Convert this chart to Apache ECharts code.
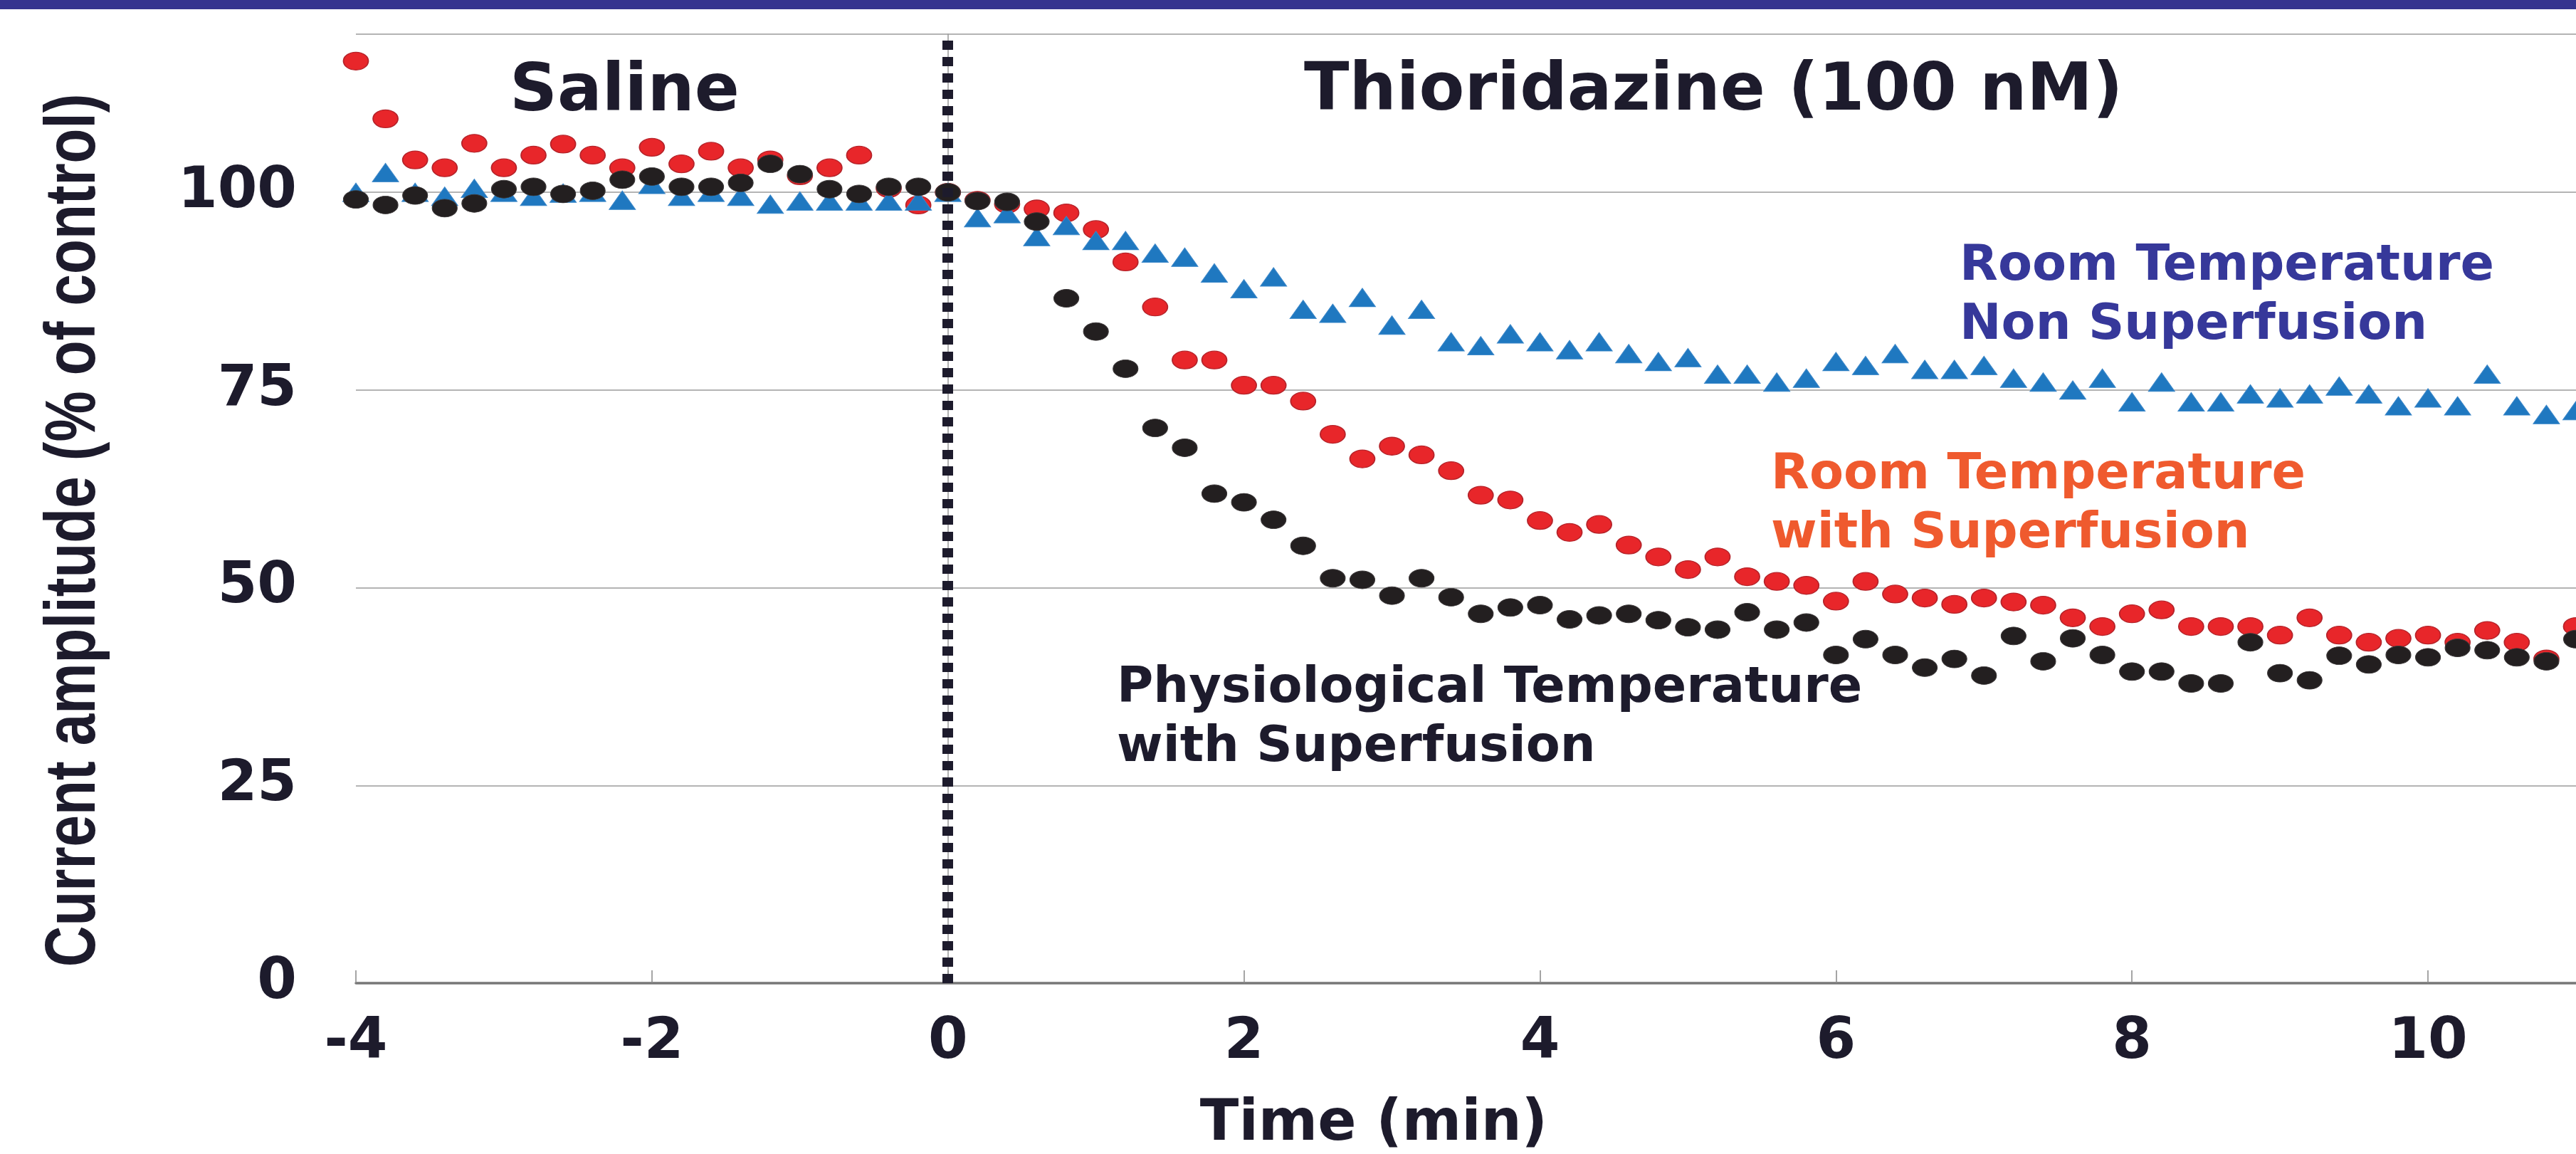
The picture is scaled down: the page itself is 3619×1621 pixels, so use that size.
<!DOCTYPE html>
<html>
<head>
<meta charset="utf-8">
<script src="https://cdn.jsdelivr.net/npm/echarts@6/dist/echarts.min.js"></script>
<style>
  html, body { margin: 0; padding: 0; background: #fff; }
  #chart { width: 3619px; height: 1621px; }
</style>
</head>
<body>
<div id="chart"></div>
<script>
// sampling times (min), one point every 0.2 min
const times = [
  -4, -3.8, -3.6, -3.4, -3.2, -3, -2.8, -2.6, -2.4, -2.2,
  -2, -1.8, -1.6, -1.4, -1.2, -1, -0.8, -0.6, -0.4, -0.2,
  0, 0.2, 0.4, 0.6, 0.8, 1, 1.2, 1.4, 1.6, 1.8,
  2, 2.2, 2.4, 2.6, 2.8, 3, 3.2, 3.4, 3.6, 3.8,
  4, 4.2, 4.4, 4.6, 4.8, 5, 5.2, 5.4, 5.6, 5.8,
  6, 6.2, 6.4, 6.6, 6.8, 7, 7.2, 7.4, 7.6, 7.8,
  8, 8.2, 8.4, 8.6, 8.8, 9, 9.2, 9.4, 9.6, 9.8,
  10, 10.2, 10.4, 10.6, 10.8, 11
]

// Room Temperature with Superfusion (red circles)
const roomSuperfusion = [
  116.6, 109.3, 104.1, 103.1, 106.2, 103.1, 104.7, 106.1, 104.7, 103.1,
  105.7, 103.6, 105.2, 103.1, 104.1, 102.1, 103.1, 104.7, 100.5, 98.4,
  100.0, 99.0, 98.5, 97.9, 97.4, 95.3, 91.2, 85.5, 78.8, 78.8,
  75.6, 75.6, 73.6, 69.4, 66.3, 67.9, 66.8, 64.8, 61.7, 61.1,
  58.5, 57.0, 58.0, 55.4, 53.9, 52.3, 53.9, 51.4, 50.8, 50.3,
  48.3, 50.8, 49.2, 48.7, 47.9, 48.7, 48.2, 47.8, 46.2, 45.1,
  46.7, 47.2, 45.1, 45.1, 45.1, 44.0, 46.2, 44.0, 43.1, 43.6,
  44.0, 43.1, 44.6, 43.1, 41.0, 45.1
]

// Room Temperature Non Superfusion (blue triangles)
const roomNonSuperfusion = [
  100.0, 102.5, 100.0, 99.5, 100.5, 100.0, 99.5, 99.9, 100.0, 99.0,
  101.0, 99.5, 100.0, 99.5, 98.5, 98.9, 98.9, 98.9, 98.9, 98.9,
  100.0, 96.8, 97.3, 94.4, 95.8, 93.9, 93.9, 92.3, 91.8, 89.8,
  87.8, 89.3, 85.2, 84.7, 86.7, 83.2, 85.2, 81.1, 80.6, 82.1,
  81.1, 80.1, 81.1, 79.6, 78.6, 79.1, 77.0, 77.0, 76.0, 76.5,
  78.6, 78.1, 79.6, 77.6, 77.6, 78.1, 76.5, 76.0, 75.0, 76.5,
  73.5, 76.0, 73.5, 73.5, 74.5, 74.0, 74.5, 75.5, 74.5, 73.0,
  74.0, 73.0, 77.0, 73.0, 71.9, 72.4
]

// Physiological Temperature with Superfusion (black circles)
const physiologicalSuperfusion = [
  99.1, 98.4, 99.6, 98.0, 98.6, 100.4, 100.7, 99.8, 100.2, 101.6,
  102.0, 100.7, 100.7, 101.2, 103.6, 102.3, 100.4, 99.8, 100.7, 100.7,
  100.0, 98.9, 98.8, 96.3, 86.6, 82.4, 77.7, 70.2, 67.7, 61.9,
  60.8, 58.6, 55.3, 51.2, 51.0, 49.0, 51.2, 48.8, 46.7, 47.5,
  47.8, 46.0, 46.5, 46.7, 45.9, 45.0, 44.7, 46.9, 44.7, 45.6,
  41.5, 43.5, 41.5, 39.9, 41.0, 38.9, 43.9, 40.7, 43.6, 41.5,
  39.4, 39.4, 37.9, 37.9, 43.1, 39.2, 38.3, 41.4, 40.3, 41.5,
  41.2, 42.4, 42.1, 41.2, 40.7, 43.5
]

const xTicks = [-4, -2, 0, 2, 4, 6, 8, 10]
const yTicks = [0, 25, 50, 75, 100]

const dark = '#1d1b2c'
const ellipse = 'path://M0,50A50,50,0,1,1,100,50A50,50,0,1,1,0,50Z'

function pairs (vals) {
    return times.map((t, i) => [t, vals[i]])
}

function note (text, x, y, color, size) {
    return {
        type: 'text',
        x: x,
        y: y,
        z: 100,
        style: {
            text: text,
            fill: color,
            font: 'bold ' + size + 'px "DejaVu Sans"',
            textAlign: 'left',
            textVerticalAlign: 'middle',
            align: 'left',
            verticalAlign: 'middle'
        }
    }
}

const chart = echarts.init(document.getElementById('chart'))

const option = {
    backgroundColor: '#ffffff',
    animation: false,
    grid: {
        left: 500,
        top: 48,
        width: 3128,
        bottom: 240,
        containLabel: false
    },
    xAxis: {
        type: 'value',
        min: -4,
        max: 11,
        interval: 2,
        axisLine: {
            onZero: false,
            lineStyle: { color: '#777777', width: 3.5 }
        },
        axisTick: {
            inside: true,
            length: 18,
            lineStyle: { color: '#888888', width: 1.5 }
        },
        splitLine: { show: false },
        axisLabel: {
            showMaxLabel: false,
            margin: 44,
            color: dark,
            fontFamily: 'DejaVu Sans',
            fontWeight: 'bold',
            fontSize: 80,
            formatter: function (val) {
                return xTicks.indexOf(val) >= 0 ? String(val) : ''
            }
        }
    },
    yAxis: {
        type: 'value',
        min: 0,
        max: 120,
        interval: 25,
        axisLine: {
            show: true,
            lineStyle: { color: '#999999', width: 1.5 }
        },
        axisTick: { show: false },
        splitLine: {
            show: true,
            lineStyle: { color: '#9b9b9b', width: 1.5 }
        },
        axisLabel: {
            showMaxLabel: false,
            margin: 83,
            padding: [14, 0, 0, 0],
            color: dark,
            fontFamily: 'DejaVu Sans',
            fontWeight: 'bold',
            fontSize: 80,
            formatter: function (val) {
                return yTicks.indexOf(val) >= 0 ? String(val) : ''
            }
        }
    },
    graphic: [
        {
            type: 'rect',
            z: 100,
            shape: { x: 0, y: 0, width: 3619, height: 13 },
            style: { fill: '#35338f' }
        },
        {
            type: 'text',
            x: 105,
            y: 745,
            rotation: Math.PI / 2,
            scaleX: 0.8,
            scaleY: 1,
            z: 100,
            style: {
                text: 'Current amplitude (% of control)',
                fill: dark,
                font: 'bold 100px "Liberation Sans"',
                textAlign: 'center',
                textVerticalAlign: 'middle',
                align: 'center',
                verticalAlign: 'middle'
            }
        },
        {
            type: 'text',
            x: 1930,
            y: 1580,
            z: 100,
            style: {
                text: 'Time (min)',
                fill: dark,
                font: 'bold 80px "DejaVu Sans"',
                textAlign: 'center',
                textVerticalAlign: 'middle',
                align: 'center',
                verticalAlign: 'middle'
            }
        },
        note('Saline', 716, 131, dark, 93),
        note('Thioridazine (100 nM)', 1832, 130, dark, 93),
        note('Room Temperature', 2753, 375, '#36389a', 70),
        note('Non Superfusion', 2753, 458, '#36389a', 70),
        note('Room Temperature', 2488, 668, '#ef5a2e', 70),
        note('with Superfusion', 2488, 751, '#ef5a2e', 70),
        note('Physiological Temperature', 1569, 968, dark, 70),
        note('with Superfusion', 1569, 1051, dark, 70)
    ],
    series: [
        {
            type: 'scatter',
            z: 1,
            data: [],
            markLine: {
                silent: true,
                symbol: 'none',
                label: { show: false },
                lineStyle: {
                    color: dark,
                    width: 15,
                    type: [13, 10],
                    cap: 'butt'
                },
                data: [{ xAxis: 0 }]
            }
        },
        {
            name: 'Room Temperature with Superfusion',
            type: 'scatter',
            z: 2,
            symbol: ellipse,
            symbolSize: [35, 25],
            itemStyle: {
                color: '#e8262a',
                borderColor: '#b5232a',
                borderWidth: 1.5,
                opacity: 1
            },
            data: pairs(roomSuperfusion)
        },
        {
            name: 'Room Temperature Non Superfusion',
            type: 'scatter',
            z: 3,
            symbol: 'triangle',
            symbolSize: [37, 26],
            itemStyle: {
                color: '#1f78c0',
                borderColor: '#3a86c8',
                borderWidth: 1,
                opacity: 1
            },
            data: pairs(roomNonSuperfusion)
        },
        {
            name: 'Physiological Temperature with Superfusion',
            type: 'scatter',
            z: 4,
            symbol: ellipse,
            symbolSize: [35, 25],
            itemStyle: {
                color: '#231f20',
                borderColor: '#3a3637',
                borderWidth: 1,
                opacity: 1
            },
            data: pairs(physiologicalSuperfusion)
        }
    ]
}

chart.setOption(option)
</script>
</body>
</html>
